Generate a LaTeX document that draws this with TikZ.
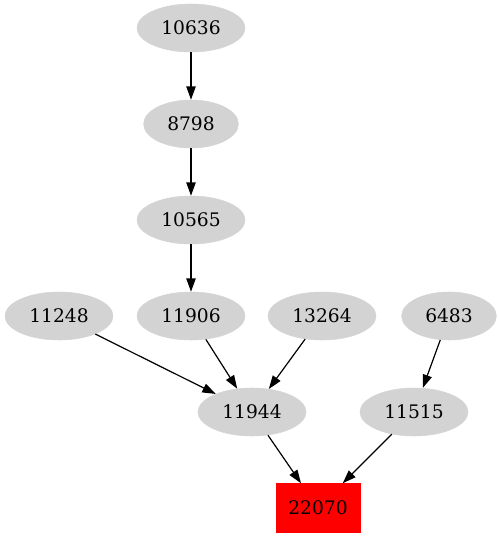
\documentclass[tikz,border=0pt]{standalone}
\usepackage{fontspec}
\setmainfont{DejaVu Serif}
\usepackage{tikz}
\usetikzlibrary{arrows.meta,shapes.geometric}
\definecolor{gvgray}{RGB}{211,211,211}
\definecolor{gvred}{RGB}{255,0,0}

\begin{document}
\begin{tikzpicture}[
  x=0.75pt, y=-0.75pt,
  pnode/.style={ellipse, fill=gvgray, draw=gvgray, inner sep=0pt,
                minimum width=81pt, minimum height=36pt,
                font=\fontsize{14}{16}\selectfont},
  snode/.style={pnode, minimum width=71pt},
  tnode/.style={rectangle, fill=gvred, draw=gvred, inner sep=0pt,
                minimum width=63pt, minimum height=36.75pt,
                font=\fontsize{14}{16}\selectfont},
  garr/.style={-{Triangle[length=10pt, width=7pt]}, line width=0.9pt}
]
\useasboundingbox (0,0) rectangle (498,539);

% Chain at the top
\node[pnode] (n10636) at (191,28)  {10636};
\node[snode] (n8798)  at (191,124) {8798};
\node[pnode] (n10565) at (191,220) {10565};

% Middle row
\node[pnode] (n11248) at (59,316)  {11248};
\node[pnode] (n11906) at (191,316) {11906};
\node[pnode] (n13264) at (322,316) {13264};
\node[snode] (n6483)  at (449,316) {6483};

\node[pnode] (n11944) at (252,412) {11944};
\node[pnode] (n11515) at (414,412) {11515};

% Target
\node[tnode] (n22070) at (318,508) {22070};

% Arrows
\draw[garr] (n10636) -- (n8798);
\draw[garr] (n8798)  -- (n10565);
\draw[garr] (n10565) -- (n11906);
\draw[garr] (n11248) -- (n11944);
\draw[garr] (n11906) -- (n11944);
\draw[garr] (n13264) -- (n11944);
\draw[garr] (n6483)  -- (n11515);
\draw[garr] (n11944) -- (n22070);
\draw[garr] (n11515) -- (n22070);
\end{tikzpicture}
\end{document}
